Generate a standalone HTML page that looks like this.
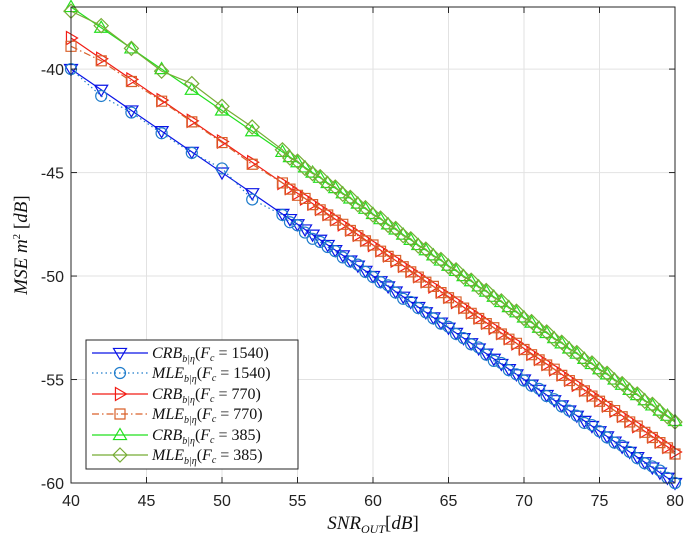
<!DOCTYPE html>
<html><head><meta charset="utf-8"><style>
body{margin:0;background:#fff}
svg{display:block}
text{font-family:"Liberation Sans",sans-serif}
.m{font-family:"Liberation Serif",serif;font-style:italic}
</style></head><body>
<svg id="chart" width="685" height="540"></svg>
<script>
const xsSparse=[40,42,44,46,48,50,52];
const xsDense=[54,54.5,55,55.5,56,56.5,57,57.5,58,58.5,59,59.5,60,60.5,61,61.5,62,62.5,63,63.5,64,64.5,65,65.5,66,66.5,67,67.5,68,68.5,69,69.5,70,70.5,71,71.5,72,72.5,73,73.5,74,74.5,75,75.5,76,76.5,77,77.5,78,78.5,79,79.5,80];
const crb1540=[-40,-41,-42,-43,-44,-45,-46,-47,-47.25,-47.5,-47.75,-48,-48.25,-48.5,-48.75,-49,-49.25,-49.5,-49.75,-50,-50.25,-50.5,-50.75,-51,-51.25,-51.5,-51.75,-52,-52.25,-52.5,-52.75,-53,-53.25,-53.5,-53.75,-54,-54.25,-54.5,-54.75,-55,-55.25,-55.5,-55.75,-56,-56.25,-56.5,-56.75,-57,-57.25,-57.5,-57.75,-58,-58.25,-58.5,-58.75,-59,-59.25,-59.5,-59.75,-60];
const mle1540=[-40,-41.3,-42.1,-43.1,-44.05,-44.8,-46.3,-47.05,-47.4,-47.55,-47.9,-48.2,-48.35,-48.6,-48.8,-49.1,-49.3,-49.45,-49.8,-50.05,-50.3,-50.45,-50.8,-51.1,-51.25,-51.55,-51.75,-52.05,-52.3,-52.45,-52.8,-53,-53.3,-53.45,-53.8,-54.1,-54.2,-54.55,-54.75,-55.05,-55.3,-55.45,-55.8,-55.95,-56.3,-56.5,-56.75,-57.1,-57.2,-57.5,-57.8,-58.05,-58.2,-58.5,-58.8,-59.05,-59.2,-59.4,-59.75,-60];
const crb770=[-38.5,-39.5,-40.5,-41.5,-42.5,-43.5,-44.5,-45.5,-45.75,-46,-46.25,-46.5,-46.75,-47,-47.25,-47.5,-47.75,-48,-48.25,-48.5,-48.75,-49,-49.25,-49.5,-49.75,-50,-50.25,-50.5,-50.75,-51,-51.25,-51.5,-51.75,-52,-52.25,-52.5,-52.75,-53,-53.25,-53.5,-53.75,-54,-54.25,-54.5,-54.75,-55,-55.25,-55.5,-55.75,-56,-56.25,-56.5,-56.75,-57,-57.25,-57.5,-57.75,-58,-58.25,-58.5];
const mle770=[-38.9,-39.6,-40.6,-41.55,-42.55,-43.55,-44.6,-45.5,-45.8,-46.1,-46.25,-46.55,-46.8,-47.05,-47.3,-47.5,-47.8,-48.05,-48.3,-48.5,-48.8,-49.05,-49.25,-49.55,-49.8,-50.05,-50.3,-50.5,-50.8,-51.05,-51.25,-51.55,-51.8,-52.05,-52.3,-52.5,-52.8,-53.05,-53.25,-53.55,-53.8,-54.05,-54.3,-54.5,-54.8,-55.05,-55.25,-55.55,-55.8,-56.05,-56.3,-56.5,-56.8,-57.05,-57.25,-57.55,-57.8,-58.05,-58.3,-58.6];
const crb385=[-37,-38,-39,-40,-41,-42,-43,-44,-44.25,-44.5,-44.75,-45,-45.25,-45.5,-45.75,-46,-46.25,-46.5,-46.75,-47,-47.25,-47.5,-47.75,-48,-48.25,-48.5,-48.75,-49,-49.25,-49.5,-49.75,-50,-50.25,-50.5,-50.75,-51,-51.25,-51.5,-51.75,-52,-52.25,-52.5,-52.75,-53,-53.25,-53.5,-53.75,-54,-54.25,-54.5,-54.75,-55,-55.25,-55.5,-55.75,-56,-56.25,-56.5,-56.75,-57];
const mle385=[-37.2,-37.9,-39,-40.1,-40.7,-41.8,-42.8,-43.9,-44.3,-44.45,-44.8,-45.05,-45.2,-45.55,-45.7,-46.05,-46.2,-46.55,-46.7,-47.05,-47.2,-47.55,-47.7,-48.05,-48.2,-48.55,-48.7,-49.05,-49.2,-49.55,-49.7,-50.05,-50.2,-50.55,-50.7,-51.05,-51.2,-51.55,-51.7,-52.05,-52.2,-52.55,-52.7,-53.05,-53.2,-53.55,-53.7,-54.05,-54.2,-54.55,-54.7,-55.05,-55.2,-55.55,-55.7,-56.05,-56.2,-56.55,-56.8,-57.05];
const xTicks=[40,45,50,55,60,65,70,75,80];
const yTicks=[-40,-45,-50,-55,-60];
const legendLabels=["CRB","MLE","CRB","MLE","CRB","MLE"];
const legendFc=["1540","1540","770","770","385","385"];

const xs=xsSparse.concat(xsDense);
const L=71,R=675,T=7,B=483;
const X=v=>L+(v-40)/(80-40)*(R-L);
const Y=v=>B-(v-(-60))/(-37-(-60))*(B-T);
const NS="http://www.w3.org/2000/svg";
const svg=document.getElementById('chart');
function mk(tag,attrs,parent){const e=document.createElementNS(NS,tag);for(const k in attrs)e.setAttribute(k,attrs[k]);(parent||svg).appendChild(e);return e;}

const grid=mk('g',{});


xTicks.forEach(t=>{mk('line',{x1:X(t),x2:X(t),y1:T,y2:B,stroke:'#e2e2e2','stroke-width':1},grid);});
yTicks.forEach(t=>{mk('line',{x1:L,x2:R,y1:Y(t),y2:Y(t),stroke:'#e2e2e2','stroke-width':1},grid);});

const series=[
 {name:'crb-1540',d:crb1540,c:'#0a14e6',dash:'',mk:'tridown'},
 {name:'mle-1540',d:mle1540,c:'#1f7ccb',dash:'1.5 3',mk:'circle'},
 {name:'crb-770',d:crb770,c:'#f21c14',dash:'',mk:'triright'},
 {name:'mle-770',d:mle770,c:'#d9622b',dash:'7 3 1.5 3',mk:'square'},
 {name:'crb-385',d:crb385,c:'#22e01e',dash:'',mk:'triup'},
 {name:'mle-385',d:mle385,c:'#76ac35',dash:'',mk:'diamond'}];
function marker(type,x,y,c,g){
 const s=6.5;let a={fill:'none',stroke:c,'stroke-width':1.2};
 if(type==='circle'){a.cx=x;a.cy=y;a.r=5.5;return mk('circle',a,g);}
 let p;
 if(type==='tridown')p=[[x-s,y-s*0.7],[x+s,y-s*0.7],[x,y+s]];
 if(type==='triup')p=[[x-s,y+s*0.7],[x+s,y+s*0.7],[x,y-s]];
 if(type==='triright')p=[[x-s*0.7,y-s],[x-s*0.7,y+s],[x+s,y]];
 if(type==='square')p=[[x-5,y-5],[x+5,y-5],[x+5,y+5],[x-5,y+5]];
 if(type==='diamond')p=[[x,y-7],[x+7,y],[x,y+7],[x-7,y]];
 a.points=p.map(q=>q.join(',')).join(' ');return mk('polygon',a,g);
}
series.forEach(s=>{
 const g=mk('g',{});
 
 
 const pts=xs.map((x,i)=>X(x)+','+Y(s.d[i])).join(' ');
 const pl=mk('polyline',{points:pts,fill:'none',stroke:s.c,'stroke-width':1.2,'stroke-dasharray':s.dash},g);
 
 
 xs.forEach((x,i)=>{const m=marker(s.mk,X(x),Y(s.d[i]),s.c,g);
  
  });
});

const ax=mk('g',{});


mk('rect',{x:L,y:T,width:R-L,height:B-T,fill:'none',stroke:'#262626','stroke-width':1},ax);
xTicks.forEach(t=>{
 mk('line',{x1:X(t),x2:X(t),y1:B,y2:B-6,stroke:'#262626'},ax);
 mk('line',{x1:X(t),x2:X(t),y1:T,y2:T+6,stroke:'#262626'},ax);
 const tx=mk('text',{x:X(t),y:B+23,'text-anchor':'middle','font-size':16,fill:'#222'},ax);
 tx.textContent=t;
 
 
});
yTicks.forEach(t=>{
 mk('line',{x1:L,x2:L+6,y1:Y(t),y2:Y(t),stroke:'#262626'},ax);
 mk('line',{x1:R,x2:R-6,y1:Y(t),y2:Y(t),stroke:'#262626'},ax);
 const tx=mk('text',{x:L-7,y:Y(t)+6,'text-anchor':'end','font-size':16,fill:'#222'},ax);
 tx.textContent=t;
 
 
});
const xl=mk('text',{x:373,y:529,'text-anchor':'middle','font-size':19,class:'m',fill:'#111'});
xl.innerHTML='SNR<tspan font-size="12" dy="4">OUT</tspan><tspan dy="-4" font-style="normal">[</tspan>dB<tspan font-style="normal">]</tspan>';


const yl=mk('text',{x:0,y:0,'text-anchor':'middle','font-size':19,class:'m',fill:'#111',transform:'translate(27,245) rotate(-90)'});
yl.innerHTML='MSE m<tspan font-size="11" dy="-7" font-style="normal">2</tspan><tspan dy="7" font-style="normal"> [</tspan>dB<tspan font-style="normal">]</tspan>';



const lg=mk('g',{});


mk('rect',{x:86,y:340,width:212,height:129,fill:'#fff',stroke:'#262626','stroke-width':1},lg);
const rows=[353,373,394,414,435,455];
series.forEach((s,i)=>{
 const e=mk('g',{},lg);
 
 
 mk('line',{x1:92,x2:148,y1:rows[i],y2:rows[i],stroke:s.c,'stroke-width':1.2,'stroke-dasharray':s.dash},e);
 marker(s.mk,120,rows[i],s.c,e);
 const t=mk('text',{x:152,y:rows[i]+5,'font-size':16,class:'m',fill:'#111'},e);
 t.innerHTML=legendLabels[i]+'<tspan font-size="10" dy="4">b|η</tspan><tspan dy="-4" font-style="normal">(</tspan>F<tspan font-size="10" dy="3">c</tspan><tspan dy="-3" font-style="normal"> = '+legendFc[i]+')</tspan>';
});
</script>
</body></html>
